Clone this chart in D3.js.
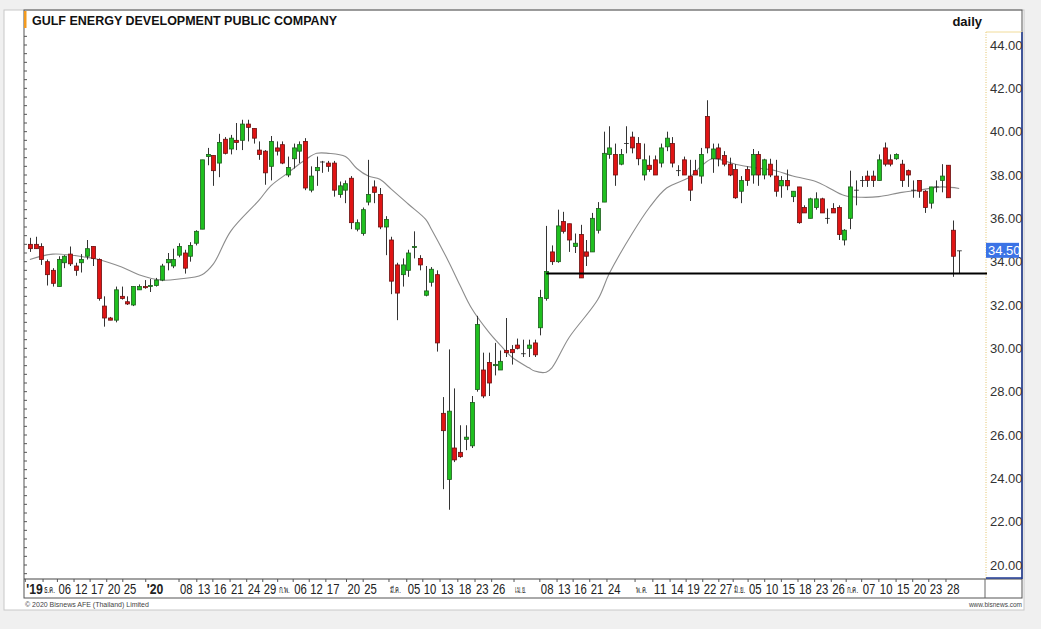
<!DOCTYPE html>
<html>
<head>
<meta charset="utf-8">
<script src="https://cdn.jsdelivr.net/npm/d3@7"></script>
<style>
  body { margin: 0; background: #f0f0f0; }
  svg { display: block; font-family: "Liberation Sans", Arial, sans-serif; }
</style>
</head>
<body>
<div id="chart"></div>
<script>
/**
 * DATA
 * */
const opens = [34.8,34.8,34.7,34.0,33.6,32.85,33.95,34.35,33.8,33.95,34.25,34.7,34.1,31.95,31.4,31.3,32.4,32.15,32.0,32.7,32.85,32.85,32.9,33.15,33.95,33.8,34.3,34.4,34.25,34.85,
  35.5,38.85,38.9,38.55,39.65,39.2,39.6,39.6,40.35,40.15,39.15,39.1,38.4,39.25,39.4,38.0,38.75,39.1,39.55,37.3,38.2,38.6,38.55,38.55,37.1,37.3,37.85,35.5,35.3,36.75,
  37.45,37.1,35.6,35.0,33.85,33.4,33.6,34.65,34.15,32.45,33.05,33.4,27.0,23.95,25.4,25.2,25.8,25.5,28.1,29.0,29.35,29.2,29.0,29.9,29.95,30.15,29.75,30.0,30.25,30.95,
  32.3,34.45,34.0,35.85,35.75,34.7,35.25,34.45,34.45,35.45,36.75,38.95,38.95,38.5,39.45,39.75,39.45,38.0,38.45,38.7,38.55,39.3,39.45,38.2,38.7,37.95,38.2,37.95,40.7,38.75,
  39.25,38.9,38.5,38.25,37.25,38.25,38.0,38.95,38.0,38.5,37.95,37.5,37.75,37.0,37.45,36.5,36.0,36.5,36.9,36.0,36.45,36.5,35.0,36.0,37.3,37.75,37.95,37.95,37.75,39.25,
  38.7,38.75,38.5,38.2,37.3,37.75,37.25,36.7,37.45,37.75,38.45,35.45,34.5];
const highs = [35.1,35.15,34.85,34.1,33.7,34.25,34.3,34.7,33.95,34.35,35.0,34.7,34.15,32.4,31.45,32.85,32.85,32.4,32.85,32.95,33.15,33.2,33.25,33.9,34.4,34.6,34.85,34.55,34.9,35.45,
  38.7,39.25,38.9,39.9,39.75,39.85,40.4,40.55,40.55,40.15,39.55,39.15,39.8,39.55,39.55,38.85,39.45,39.55,39.7,38.4,38.85,38.65,38.65,38.65,37.7,37.75,37.95,35.95,36.5,38.7,
  37.75,37.4,36.1,35.15,33.95,34.15,34.55,35.4,34.3,33.8,33.75,33.6,27.75,29.95,28.15,26.45,26.45,27.8,31.5,29.8,29.8,30.25,29.9,31.4,30.15,30.45,30.4,30.4,30.4,32.7,
  35.65,34.75,36.4,36.3,35.75,35.3,35.7,35.0,36.25,36.75,40.0,40.25,39.45,39.2,40.25,40.0,39.75,39.45,38.9,38.9,39.45,40.0,39.75,38.45,38.85,38.7,38.7,39.25,41.45,39.45,
  39.45,39.1,38.8,38.5,37.95,38.4,39.2,39.1,38.75,38.75,38.7,37.95,38.25,37.25,37.45,36.6,36.95,37.2,36.95,36.45,36.7,36.6,35.5,38.2,37.75,37.95,38.2,38.2,38.95,39.5,
  38.95,39.0,38.7,38.25,37.75,37.75,37.3,37.45,37.75,38.5,38.45,35.9,34.5];
const lows = [34.45,34.6,33.85,32.9,32.85,32.85,33.7,33.8,33.35,33.5,34.1,33.8,32.2,31.0,31.3,31.2,32.25,32.0,31.95,32.7,32.75,32.6,32.85,33.1,33.6,33.7,34.2,33.45,34.0,34.75,
  35.5,38.45,37.5,37.9,38.95,38.95,39.15,39.15,39.55,39.45,38.7,37.55,37.75,38.9,38.5,37.9,38.3,38.55,37.3,37.2,37.5,38.1,38.15,37.0,36.95,36.7,35.5,35.4,35.2,36.6,
  36.7,35.5,34.3,32.5,31.3,32.85,33.3,34.15,33.6,32.4,32.85,29.85,23.5,22.55,24.75,24.95,25.3,25.4,28.0,27.7,27.8,28.75,29.0,29.6,29.25,29.95,29.6,29.6,29.6,30.6,
  32.2,33.85,33.95,35.3,34.45,34.4,33.25,33.8,34.45,35.3,36.75,38.75,37.5,38.45,39.0,39.0,38.45,37.75,38.15,38.0,38.35,39.1,38.35,37.95,38.0,36.8,38.0,37.6,39.0,38.1,
  38.4,38.4,37.95,36.9,36.7,37.5,37.6,37.5,37.8,37.9,37.0,36.95,37.3,36.75,35.75,36.25,36.0,36.4,36.25,35.75,36.25,35.0,34.75,35.5,36.6,37.45,37.45,37.45,37.75,38.4,
  38.4,38.7,37.45,37.45,36.95,36.95,36.25,36.45,37.2,37.2,36.95,33.3,33.45];
const closes = [34.6,34.6,34.1,33.4,33.0,34.1,34.25,33.9,33.6,34.1,34.6,34.15,32.3,31.4,31.3,32.7,32.3,32.05,32.85,32.85,32.8,32.9,33.15,33.8,34.1,34.1,34.7,33.7,34.75,35.4,
  38.7,38.95,38.2,39.5,39.0,39.7,39.5,40.35,40.2,39.7,38.95,38.1,39.55,39.1,38.55,38.35,39.25,39.4,37.4,37.95,38.35,38.6,38.4,37.3,37.5,37.6,35.8,35.8,36.4,37.1,
  37.2,35.6,35.95,33.1,32.55,33.85,34.4,34.7,33.85,32.65,33.65,30.25,26.2,27.1,24.85,25.0,25.9,27.5,31.1,27.8,28.4,29.25,29.4,29.8,29.8,30.0,29.75,30.15,29.7,32.35,
  33.55,34.0,35.65,35.4,35.0,34.85,33.25,34.25,36.0,36.45,39.0,39.25,38.0,38.95,39.45,39.25,38.75,38.7,38.25,38.0,39.25,39.7,38.55,38.2,38.0,37.3,38.0,38.95,39.25,39.2,
  38.75,38.5,38.0,36.95,37.75,37.75,38.95,38.0,38.7,38.0,37.25,37.75,37.5,37.25,35.8,36.25,36.9,36.9,36.25,36.0,36.25,35.25,35.45,37.45,37.3,37.75,37.75,37.75,38.7,38.5,
  38.5,38.95,37.75,38.0,37.3,37.25,36.5,37.45,37.45,37.95,36.95,34.25,34.5];

// moving average, read at a few trading days (slot index -> value)
const maSlots = [0,4,10,12,16,19,23,26,30,32,35,40,42,45,48,50,52,55,57,59,61,63,66,69,70,73,75,77,80,82,84,87,88,90,91,94,99,101,105,108,111,115,117,119,123,126,130,133,137,139,142,145,148,152,155,159,162];
const maValues = [34.1,34.35,34.2,34.1,33.75,33.4,33.15,33.2,33.4,33.9,35.4,36.85,37.5,38.1,38.7,39.0,39.0,38.85,38.3,37.95,37.8,37.35,36.65,35.95,35.5,34.0,32.9,31.85,30.75,30.15,29.6,29.1,28.95,28.9,29.1,30.5,32.25,33.45,35.3,36.5,37.4,37.9,38.4,38.75,38.5,38.35,38.2,37.95,37.7,37.45,37.05,36.97,37.0,37.2,37.3,37.45,37.38];

// date ticks: label text and its tick position (in trading-day slots)
const dateText = ["'19","ธ.ค.","06","12","17","20","25","'20","08","13","16","21","24","29","ก.พ.","06","12","17","20","25","มี.ค.","05","10","13","18","23","26","เม.ย.","08","13","16","21","24","พ.ค.","11","14","19","22","27","มิ.ย.","05","10","15","18","23","26","ก.ค.","07","10","15","20","23","28"];
const dateSlot = [-0.3,2.8,5.3,8.2,11.0,13.9,16.7,20.7,26.5,29.6,32.4,35.4,38.3,41.1,43.7,46.4,49.2,52.1,55.7,58.6,63.1,66.2,69.0,72.0,75.1,78.1,81.0,84.9,89.4,92.4,95.2,98.1,101.1,106.0,109.1,112.1,114.9,117.8,120.6,123.1,125.7,128.6,131.5,134.4,137.3,140.2,142.8,145.5,148.5,151.5,154.4,157.2,160.2];

const priceTicks = [20,22,24,26,28,30,32,34,36,38,40,42,44];
const supportLevel = 33.45;
const supportFrom = 90;
const lastPrice = 34.5;
const totalSlots = 167;

/**
 * LAYOUT
 * */
const W = 1041, H = 629;
const box = { left: 24, right: 1022, top: 10, plotBottom: 579, bottom: 598 };
const axisX = 985;

const svg = d3.select("#chart").append("svg")
  .attr("width", W).attr("height", H);

// page background & white panel
svg.append("rect").attr("width", W).attr("height", H).attr("fill", "#f0f0f0");
svg.append("rect").attr("x", 4).attr("y", 10).attr("width", 1020).attr("height", 600)
  .attr("fill", "#fff").attr("stroke", "#c8c8c8");

const x = d3.scaleLinear().domain([-0.5, totalSlots - 0.5]).range([27, axisX]);
const y = d3.scaleLinear().domain([20, 44]).range([565, 45]);
const step = x(1) - x(0);

// chart frame
svg.append("rect").attr("x", box.left).attr("y", box.top)
  .attr("width", box.right - box.left).attr("height", box.bottom - box.top)
  .attr("fill", "none").attr("stroke", "#555").attr("stroke-width", 1);
svg.append("line").attr("x1", box.left).attr("x2", box.right)
  .attr("y1", box.plotBottom).attr("y2", box.plotBottom).attr("stroke", "#444");
svg.append("line").attr("x1", axisX).attr("x2", axisX)
  .attr("y1", box.plotBottom).attr("y2", box.bottom).attr("stroke", "#666");

// right axis decoration
svg.append("line").attr("x1", axisX + 1).attr("x2", axisX + 1).attr("y1", 32).attr("y2", box.plotBottom)
  .attr("stroke", "#e2c36a").attr("stroke-dasharray", "1,1.5");
svg.append("line").attr("x1", axisX + 1).attr("x2", box.right).attr("y1", 32).attr("y2", 32)
  .attr("stroke", "#f1dc9a");
svg.append("line").attr("x1", box.right).attr("x2", box.right).attr("y1", 32).attr("y2", box.plotBottom)
  .attr("stroke", "#1f3a93").attr("stroke-width", 1.5);
svg.append("line").attr("x1", axisX + 1).attr("x2", box.right).attr("y1", box.plotBottom - 1).attr("y2", box.plotBottom - 1)
  .attr("stroke", "#1f3a93").attr("stroke-width", 1.5);

// left border minor ticks
svg.append("g").selectAll("line")
  .data(d3.range(19.6, 44.6, 0.4))
  .join("line")
  .attr("x1", box.left).attr("x2", box.left + 3)
  .attr("y1", d => y(d)).attr("y2", d => y(d))
  .attr("stroke", "#555");

// title
svg.append("rect").attr("x", box.left).attr("y", 11).attr("width", 2.5).attr("height", 17).attr("fill", "#f29a1f");
svg.append("text").attr("x", 32).attr("y", 25)
  .attr("font-size", 13).attr("font-weight", "bold").attr("fill", "#111")
  .attr("textLength", 305).attr("lengthAdjust", "spacingAndGlyphs")
  .text("GULF ENERGY DEVELOPMENT PUBLIC COMPANY");
svg.append("text").attr("x", 982).attr("y", 26).attr("text-anchor", "end")
  .attr("font-size", 13).attr("font-weight", "bold").attr("fill", "#111")
  .text("daily");

// y axis labels
svg.append("g").selectAll("text")
  .data(priceTicks)
  .join("text")
  .attr("x", 990).attr("y", d => y(d) + 4.5)
  .attr("font-size", 13).attr("fill", "#333")
  .text(d => d.toFixed(2));

// x axis labels
const isThai = d => /[\u0E00-\u0E7F]/.test(d);
const labelLeft = s => x(s) - step / 2;
const xg = svg.append("g");
xg.selectAll("line")
  .data(dateSlot)
  .join("line")
  .attr("x1", d => labelLeft(d)).attr("x2", d => labelLeft(d))
  .attr("y1", box.plotBottom).attr("y2", box.plotBottom + 3)
  .attr("stroke", "#555");
xg.selectAll("text")
  .data(dateText)
  .join("text")
  .attr("x", (d, i) => labelLeft(dateSlot[i]) + 1)
  .attr("y", d => isThai(d) ? 593 : 594)
  .attr("font-size", d => isThai(d) ? 9 : 14.5)
  .attr("font-weight", d => d.startsWith("'") ? "bold" : "normal")
  .attr("fill", "#222")
  .attr("textLength", d => isThai(d) ? 11 : d.startsWith("'") ? 16.5 : 12.6)
  .attr("lengthAdjust", "spacingAndGlyphs")
  .text(d => d);

// footer
svg.append("text").attr("x", 25).attr("y", 607).attr("font-size", 7).attr("fill", "#444")
  .text("© 2020 Bisnews AFE (Thailand) Limited");
svg.append("text").attr("x", 1022).attr("y", 607).attr("text-anchor", "end").attr("font-size", 6.5).attr("fill", "#444")
  .text("www.bisnews.com");

// moving average
const ma = maSlots.map((s, i) => [s, maValues[i]]);
svg.append("path")
  .datum(ma)
  .attr("fill", "none")
  .attr("stroke", "#8c8c8c")
  .attr("stroke-width", 1.1)
  .attr("d", d3.line().x(d => x(d[0])).y(d => y(d[1])).curve(d3.curveCatmullRom));

// candles
const candles = opens.map((o, i) => ({ i, o, h: highs[i], l: lows[i], c: closes[i] }));
const bw = 4;
const cg = svg.append("g");
cg.selectAll(".wick")
  .data(candles)
  .join("line")
  .attr("class", "wick")
  .attr("x1", d => Math.round(x(d.i)) + 0.5).attr("x2", d => Math.round(x(d.i)) + 0.5)
  .attr("y1", d => y(d.h)).attr("y2", d => y(d.l))
  .attr("stroke", "#333").attr("stroke-width", 1);
cg.selectAll(".body")
  .data(candles)
  .join("rect")
  .attr("class", "body")
  .attr("x", d => Math.round(x(d.i)) + 0.5 - bw / 2)
  .attr("y", d => y(Math.max(d.o, d.c)))
  .attr("width", bw)
  .attr("height", d => Math.max(0.01, Math.abs(y(d.o) - y(d.c))))
  .attr("fill", d => d.c > d.o ? "#1fbf1f" : d.c < d.o ? "#e01414" : "#222")
  .attr("stroke", d => d.c > d.o ? "#1d5e1d" : d.c < d.o ? "#6a1010" : "#222")
  .attr("stroke-width", 0.8);

// support line
svg.append("line")
  .attr("x1", x(supportFrom)).attr("x2", axisX + 2)
  .attr("y1", y(supportLevel)).attr("y2", y(supportLevel))
  .attr("stroke", "#000").attr("stroke-width", 2);

// last price tag (covers the 34.00 label as in the original)
svg.append("rect").attr("x", 986).attr("y", y(lastPrice) - 8).attr("width", 33).attr("height", 15)
  .attr("fill", "#3b73e6");
svg.append("text").attr("x", 988).attr("y", y(lastPrice) + 4.5)
  .attr("font-size", 13).attr("fill", "#fff")
  .text(lastPrice.toFixed(2));
</script>
</body>
</html>
